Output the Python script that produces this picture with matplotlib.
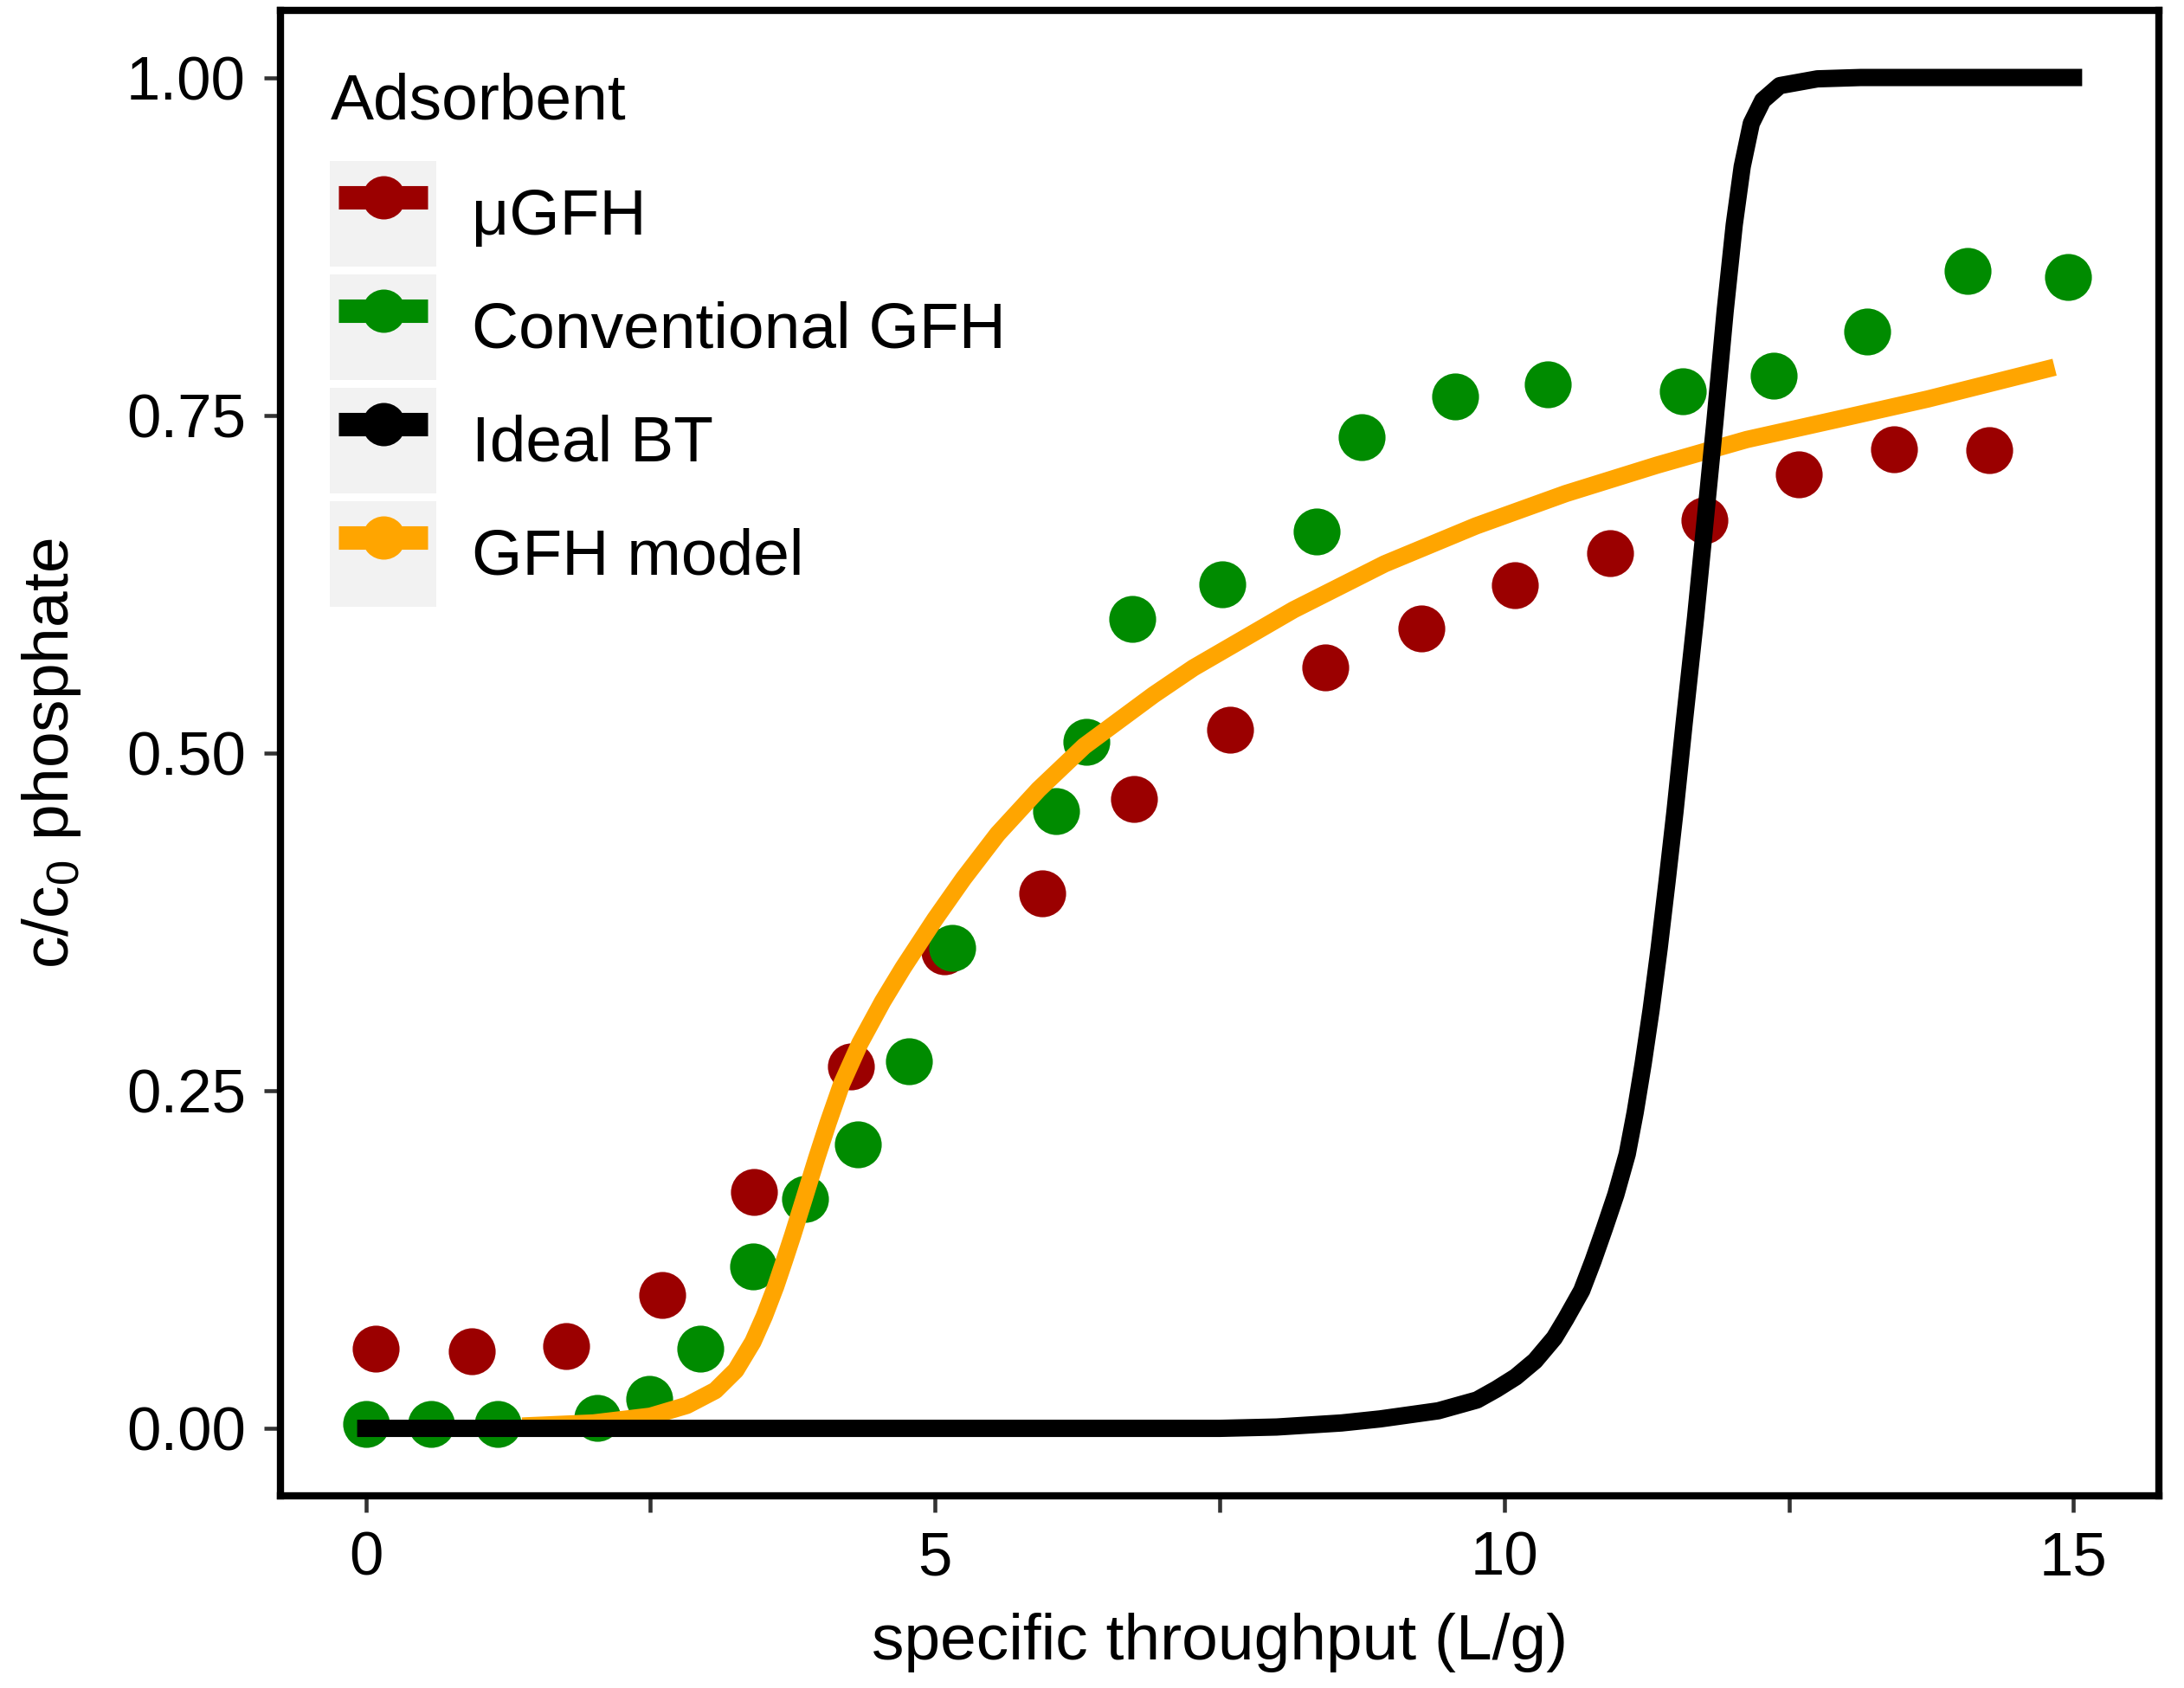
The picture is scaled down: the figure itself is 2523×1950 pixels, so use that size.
import matplotlib
matplotlib.use("Agg")
import matplotlib.pyplot as plt
from matplotlib.lines import Line2D
from matplotlib.patches import Patch
from matplotlib.legend_handler import HandlerLine2D

plt.rcParams['font.family'] = ['Liberation Sans', 'DejaVu Sans']

# measured breakthrough data
ugfh_x = [0.09, 0.93, 1.76, 2.60, 3.41, 4.26, 5.08, 5.94, 6.75, 7.59, 8.43,
          9.27, 10.09, 10.93, 11.76, 12.59, 13.42, 14.26]
ugfh_y = [0.059, 0.057, 0.061, 0.099, 0.175, 0.268, 0.353, 0.396, 0.466, 0.517,
          0.563, 0.592, 0.624, 0.648, 0.672, 0.706, 0.725, 0.724]

conv_x = [0.0, 0.57, 1.16, 2.03, 2.49, 2.94, 3.40, 3.86, 4.32, 4.77, 5.15, 6.06,
          6.33, 6.73, 7.52, 8.35, 8.75, 9.57, 10.38, 11.57, 12.37, 13.19, 14.07, 14.95]
conv_y = [0.003, 0.003, 0.003, 0.008, 0.022, 0.059, 0.120, 0.170, 0.210, 0.272,
          0.356, 0.457, 0.508, 0.599, 0.625, 0.664, 0.734, 0.764, 0.773, 0.768,
          0.779, 0.812, 0.857, 0.852]

# ideal breakthrough curve
ideal_x = [0.0, 7.5, 8.0, 8.57, 8.91, 9.42, 9.76, 9.93, 10.10, 10.27, 10.44, 10.54,
           10.68, 10.78, 10.88, 10.98, 11.08, 11.15, 11.22, 11.29, 11.36, 11.43,
           11.50, 11.58, 11.68, 11.76, 11.85, 11.94, 12.02, 12.09, 12.17,
           12.27, 12.42, 12.75, 13.13, 15.0]
ideal_y = [0.0, 0.0, 0.001, 0.004, 0.007, 0.013, 0.021, 0.029, 0.038, 0.050, 0.067,
           0.081, 0.102, 0.124, 0.148, 0.173, 0.203, 0.234, 0.270, 0.310, 0.355,
           0.405, 0.457, 0.522, 0.600, 0.668, 0.745, 0.827, 0.891, 0.934,
           0.966, 0.983, 0.994, 0.999, 1.0, 1.0]

# GFH model curve
model_x = [1.45, 2.0, 2.5, 2.82, 3.07, 3.25, 3.40, 3.50, 3.60, 3.68, 3.75, 3.85,
           3.96, 4.06, 4.18, 4.34, 4.54, 4.72, 5.0, 5.25, 5.55, 5.91, 6.31, 6.92,
           7.27, 8.15, 8.95, 9.75, 10.54, 11.34, 12.13, 12.93, 13.72, 14.76]
model_y = [0.002, 0.004, 0.009, 0.017, 0.028, 0.043, 0.064, 0.083, 0.105, 0.125,
           0.143, 0.170, 0.200, 0.226, 0.255, 0.285, 0.316, 0.341, 0.377, 0.407,
           0.440, 0.473, 0.505, 0.543, 0.563, 0.606, 0.640, 0.668, 0.692, 0.713,
           0.732, 0.747, 0.762, 0.784]

labels = ['\u03bcGFH', 'Conventional GFH', 'Ideal BT', 'GFH model']
colors = ['#9B0000', '#008B00', '#000000', '#FFA500']


class InsetLine(HandlerLine2D):
    # legend key line a bit shorter than the grey key box
    def get_xdata(self, legend, xdescent, ydescent, width, height, fontsize):
        pad = 2.4
        xdata = [-xdescent + pad, -xdescent + width - pad]
        return xdata, [-xdescent + 0.5 * width]


fig = plt.figure(figsize=(2523 / 300, 1950 / 300), dpi=300)
ax = fig.add_axes([0.1284, 0.1138, 0.8601, 0.8803])

ax.plot(ugfh_x, ugfh_y, 'o', color=colors[0], ms=13, mew=0, zorder=2)
ax.plot(conv_x, conv_y, 'o', color=colors[1], ms=13, mew=0, zorder=3)
ax.plot(model_x, model_y, '-', color=colors[3], lw=4.8, zorder=4,
        solid_joinstyle='round')
ax.plot(ideal_x, ideal_y, '-', color=colors[2], lw=4.8, zorder=5,
        solid_joinstyle='round')

ax.set_xlim(-0.75, 15.75)
ax.set_ylim(-0.05, 1.05)
ax.set_xticks([0, 2.5, 5, 7.5, 10, 12.5, 15])
ax.set_xticklabels(['0', '', '5', '', '10', '', '15'])
ax.set_yticks([0, 0.25, 0.5, 0.75, 1.0])
ax.set_yticklabels(['0.00', '0.25', '0.50', '0.75', '1.00'])
ax.tick_params(direction='out', length=4.6, width=1.1, color='#333333',
               labelsize=17, labelcolor='black', pad=5)
for s in ax.spines.values():
    s.set_linewidth(2.0)
    s.set_color('black')

ax.set_xlabel('specific throughput (L/g)', fontsize=18, labelpad=7)
ax.set_ylabel(r'c/c$_\mathregular{0}$ phosphate', fontsize=18, labelpad=12)

handles = []
for c in colors:
    handles.append((Patch(facecolor='#F2F2F2', edgecolor='none'),
                    Line2D([], [], color=c, lw=6.5, marker='o', ms=12, mew=0,
                           solid_capstyle='butt')))
leg = ax.legend(handles, labels, title='Adsorbent', loc='upper left',
                bbox_to_anchor=(0.0265, 0.958), frameon=False, fontsize=18,
                title_fontsize=18, handlelength=1.63, handleheight=2.126,
                labelspacing=0.12, handletextpad=0.55, borderpad=0,
                borderaxespad=0, alignment='left', numpoints=1,
                handler_map={Line2D: InsetLine()})
leg._legend_box.sep = 8

fig.savefig('out.png', dpi=300)
